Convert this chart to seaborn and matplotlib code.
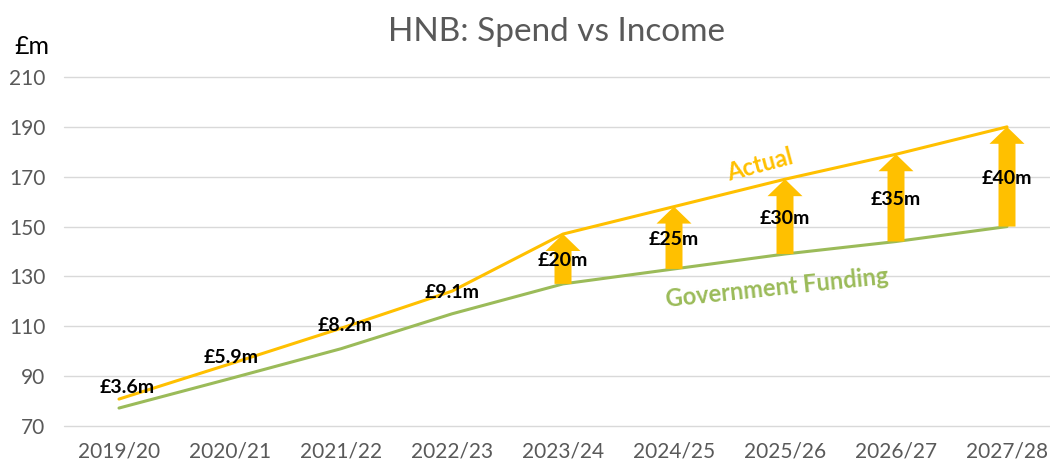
import matplotlib
matplotlib.use("Agg")
import matplotlib.pyplot as plt
import seaborn as sns
import pandas as pd

years = ["2019/20", "2020/21", "2021/22", "2022/23", "2023/24",
         "2024/25", "2025/26", "2026/27", "2027/28"]
funding = [77.2, 89.0, 101.0, 115.0, 127.0, 133.0, 139.0, 144.0, 150.0]
gap = [3.6, 5.9, 8.2, 9.1, 20, 25, 30, 35, 40]
actual = [f + g for f, g in zip(funding, gap)]
gap_labels = ["£3.6m", "£5.9m", "£8.2m", "£9.1m", "£20m", "£25m", "£30m", "£35m", "£40m"]
arrow_from = 4  # arrows start at 2023/24

YELLOW = "#FFC000"
GREEN = "#9BBB59"
GREY = "#595959"

sns.set_theme(style="white")
plt.rcParams["font.family"] = ["Lato", "DejaVu Sans"]

df = pd.DataFrame({
    "year": years * 2,
    "value": actual + funding,
    "series": ["Actual"] * len(years) + ["Government Funding"] * len(years),
})

W, H = 1050, 467
x0, dx = 119, 111
left_px = x0 - 0.5 * dx
right_px = x0 + 8.5 * dx
fig = plt.figure(figsize=(W / 100, H / 100), dpi=100)
ax = fig.add_axes([left_px / W, 1 - 426 / H, (right_px - left_px) / W, (426 - 77) / H])

sns.lineplot(data=df, x="year", y="value", hue="series",
             palette={"Actual": YELLOW, "Government Funding": GREEN},
             linewidth=2.2, legend=False, ax=ax, sort=False, zorder=2)

ax.set_xlim(-0.5, 8.5)
ax.set_ylim(70, 210)
ax.set_yticks(range(70, 211, 20))
ax.grid(axis="y", color="#D9D9D9", linewidth=1.0)
ax.grid(axis="x", visible=False)
for s in ax.spines.values():
    s.set_visible(False)
ax.set_xlabel("")
ax.set_ylabel("")
ax.tick_params(axis="both", length=0, labelsize=15, labelcolor=GREY)
ax.tick_params(axis="x", pad=11)
ax.tick_params(axis="y", pad=13)
for gl in ax.get_ygridlines():
    gl.set_clip_on(False)

# arrows and gap labels
label_dx = [0.07, 0.01, 0.04, 0.0]
label_dy = [4.5, 2.7, 1.3, -0.4]
for i, (f, a, lab) in enumerate(zip(funding, actual, gap_labels)):
    if i >= arrow_from:
        ax.arrow(i, f, 0, a - f, width=0.153, head_width=0.315, head_length=6.8,
                 length_includes_head=True, color=YELLOW, linewidth=0, zorder=3)
        ax.text(i, (f + a) / 2 - 0.8, lab, ha="center", va="center",
                fontsize=14, fontweight="bold", color="black", zorder=4)
    else:
        ax.text(i + label_dx[i], a + label_dy[i], lab, ha="center", va="center",
                fontsize=14, fontweight="bold", color="black", zorder=4)

ax.text(5.77, 174.7, "Actual", rotation=15, ha="center", va="center",
        fontsize=17, fontweight="bold", color=YELLOW, rotation_mode="anchor")
ax.text(5.93, 125.6, "Government Funding", rotation=6, ha="center", va="center",
        fontsize=17, fontweight="bold", color=GREEN, rotation_mode="anchor")

fig.text(556 / W, 1 - 32 / H, "HNB: Spend vs Income", ha="center", va="center",
         fontsize=24, color=GREY)
fig.text(32 / W, 1 - 46 / H, "£m", ha="center", va="center",
         fontsize=18, color="black")

fig.savefig("out.png", dpi=100)
